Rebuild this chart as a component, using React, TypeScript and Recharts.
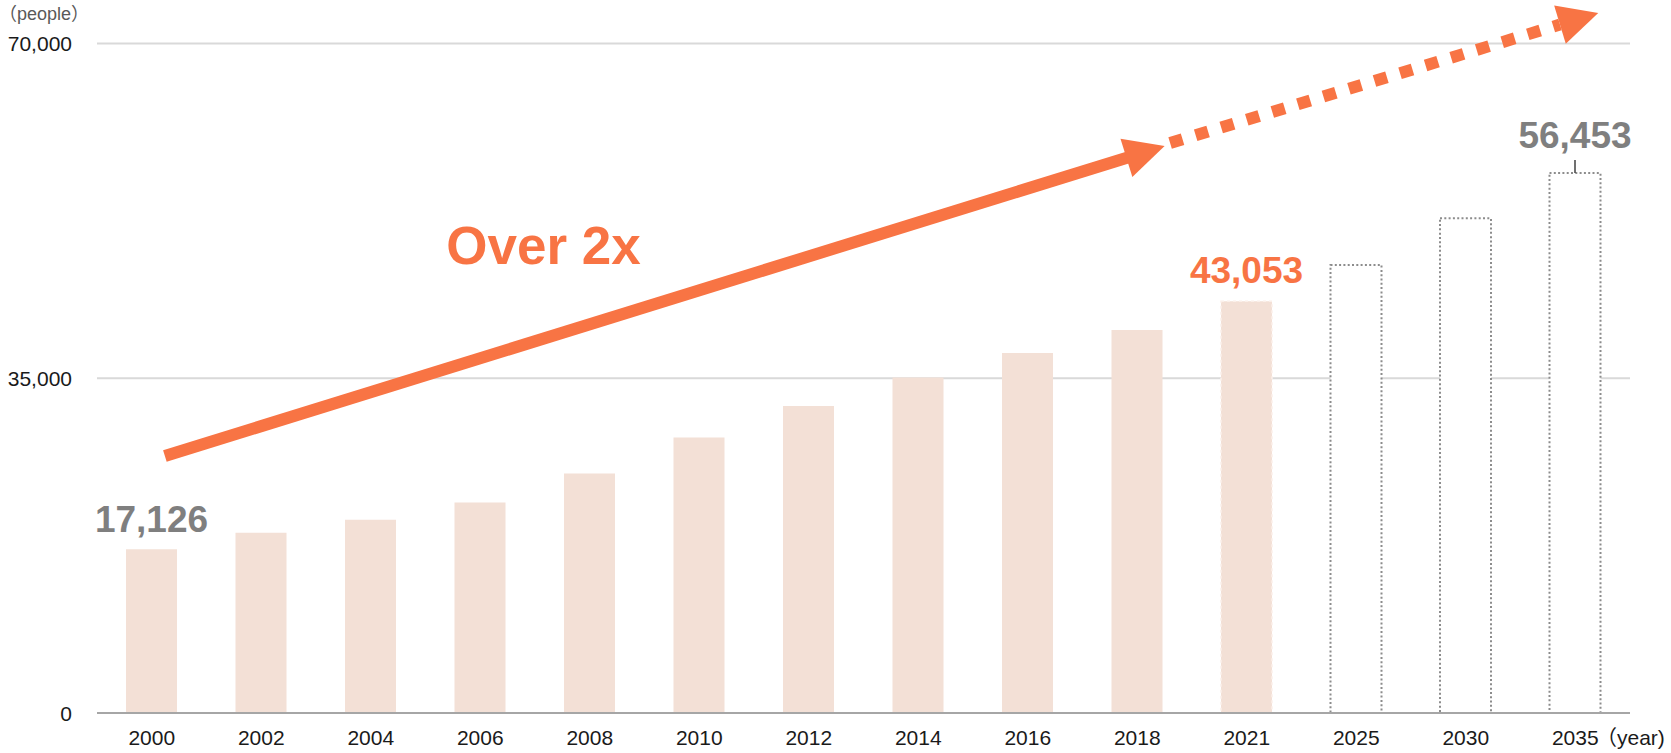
import React from 'react';
import {
  BarChart,
  Bar,
  XAxis,
  YAxis,
  CartesianGrid,
  Cell,
  LabelList,
  ReferenceLine,
  ReferenceDot,
} from 'recharts';

// ---- data ----
const years = ['2000', '2002', '2004', '2006', '2008', '2010', '2012', '2014', '2016', '2018', '2021', '2025', '2030', '2035'];
const population = [17126, 18850, 20200, 22000, 25030, 28800, 32100, 35080, 37650, 40050, 43053, 46840, 51720, 56453];
const projectedYears = ['2025', '2030', '2035'];
const yTicks = [0, 35000, 70000];
const labeledYears = ['2000', '2021', '2035'];
const highlightYear = '2021';
const leaderYear = '2035';

// annotation anchors (x in category-index units, 0 = first bar centre; y in people)
const solidArrow = [{ x: 0.12, y: 26870 }, { x: 9.25, y: 59280 }];
const dottedArrow = [{ x: 9.3, y: 59600 }, { x: 13.21, y: 73190 }];
const growthText = 'Over 2x';
const growthTextAt = { x: 2.69, y: 46950 };
const yUnit = '（people）';
const xUnit = '（year)';

const data = years.map((year, i) => ({ year, pos: i, value: population[i] }));

const FONT = '"Liberation Sans", Arial, "Noto Sans CJK JP", sans-serif';
const ORANGE = '#F87444';
const PEACH = '#F3E0D6';
const GRAY_LABEL = '#7F7F7F';

const fmt = (v: number) => v.toLocaleString('en-US');

const XTick = (props: any) => {
  const { x, y, payload } = props;
  return (
    <text x={x} y={y + 24} textAnchor="middle" fontSize={21} fill="#1a1a1a" fontFamily={FONT}>
      {payload.value}
    </text>
  );
};

const YTick = (props: any) => {
  const { x, y, payload } = props;
  return (
    <text x={x - 17} y={y + 7.5} textAnchor="end" fontSize={21} fill="#1a1a1a" fontFamily={FONT}>
      {fmt(payload.value)}
    </text>
  );
};

const ValueLabel = (props: any) => {
  const { x, y, width, index, value } = props;
  const year = years[index];
  if (!labeledYears.includes(year)) return null;
  const cx = Number(x) + Number(width) / 2;
  const top = Number(y);
  const color = year === highlightYear ? ORANGE : GRAY_LABEL;
  const hasLeader = year === leaderYear;
  const gap = hasLeader ? 25 : year === highlightYear ? 18 : 17;
  return (
    <g>
      {hasLeader && <line x1={cx} x2={cx} y1={top - 13} y2={top} stroke="#404040" strokeWidth={1.5} />}
      <text x={cx} y={top - gap} textAnchor="middle" fontSize={37} fontWeight="bold" fill={color} fontFamily={FONT}>
        {fmt(value)}
      </text>
    </g>
  );
};

const makeArrow = (dashed: boolean) => (props: any) => {
  const { x1, y1, x2, y2 } = props;
  const dx = x2 - x1;
  const dy = y2 - y1;
  const len = Math.sqrt(dx * dx + dy * dy);
  const ux = dx / len;
  const uy = dy / len;
  const nx = -uy;
  const ny = ux;
  const L = 40;
  const W = 20;
  const bx = x2 - ux * L;
  const by = y2 - uy * L;
  const sx = x2 - ux * (dashed ? L : L - 4);
  const sy = y2 - uy * (dashed ? L : L - 4);
  return (
    <g>
      <line
        x1={x1}
        y1={y1}
        x2={sx}
        y2={sy}
        stroke={ORANGE}
        strokeWidth={12}
        strokeDasharray={dashed ? '13 13.7' : undefined}
      />
      <polygon
        points={`${x2},${y2} ${bx + nx * W},${by + ny * W} ${bx - nx * W},${by - ny * W}`}
        fill={ORANGE}
      />
    </g>
  );
};

const GrowthText = (props: any) => {
  const { cx, cy } = props;
  return (
    <text x={cx} y={cy} fontSize={53} fontWeight="bold" fill={ORANGE} fontFamily={FONT}>
      {growthText}
    </text>
  );
};

export default function App() {
  return (
    <div style={{ position: 'absolute', left: 0, top: 0, width: 1671, height: 753, background: '#fff' }}>
      <BarChart
        width={1671}
        height={753}
        data={data}
        margin={{ top: 43.5, right: 41, bottom: 0, left: 0 }}
      >
        <CartesianGrid vertical={false} stroke="#D9D9D9" strokeWidth={2} />
        <XAxis
          dataKey="year"
          height={40}
          axisLine={{ stroke: '#A6A6A6', strokeWidth: 2 }}
          tickLine={false}
          tickSize={6}
          tickMargin={2}
          tick={<XTick />}
          interval={0}
        />
        <XAxis
          xAxisId="num"
          dataKey="pos"
          type="number"
          scale="linear"
          domain={[-0.5, 13.5]}
          allowDataOverflow
          hide
        />
        <YAxis
          width={97}
          domain={[0, 70000]}
          ticks={yTicks}
          axisLine={false}
          tickLine={false}
          tickSize={6}
          tickMargin={2}
          tick={<YTick />}
          allowDataOverflow
        />
        <Bar dataKey="value" barSize={51} isAnimationActive={false}>
          {data.map((d) => {
            const projected = projectedYears.includes(d.year);
            if (projected) {
              return (
                <Cell
                  key={d.year}
                  fill="#FFFFFF"
                  stroke="#8C8C8C"
                  strokeWidth={2}
                  strokeDasharray="2 2.3"
                />
              );
            }
            if (d.year === highlightYear) {
              return (
                <Cell key={d.year} fill={PEACH} stroke="#FBF0EA" strokeWidth={1.5} strokeDasharray="3 3" />
              );
            }
            return <Cell key={d.year} fill={PEACH} />;
          })}
          <LabelList dataKey="value" content={<ValueLabel />} />
        </Bar>
        <ReferenceLine
          xAxisId="num"
          segment={solidArrow}
          ifOverflow="visible"
          shape={makeArrow(false)}
        />
        <ReferenceLine
          xAxisId="num"
          segment={dottedArrow}
          ifOverflow="visible"
          shape={makeArrow(true)}
        />
        <ReferenceDot
          xAxisId="num"
          x={growthTextAt.x}
          y={growthTextAt.y}
          r={0}
          ifOverflow="visible"
          shape={<GrowthText />}
        />
      </BarChart>
      <svg
        width={1671}
        height={753}
        style={{ position: 'absolute', left: 0, top: 0, pointerEvents: 'none' }}
      >
        <text x={-1} y={20} fontSize={18} fill="#595959" fontFamily={FONT}>
          {yUnit}
        </text>
        <text x={1596} y={745} fontSize={21} fill="#1a1a1a" fontFamily={FONT}>
          {xUnit}
        </text>
      </svg>
    </div>
  );
}
